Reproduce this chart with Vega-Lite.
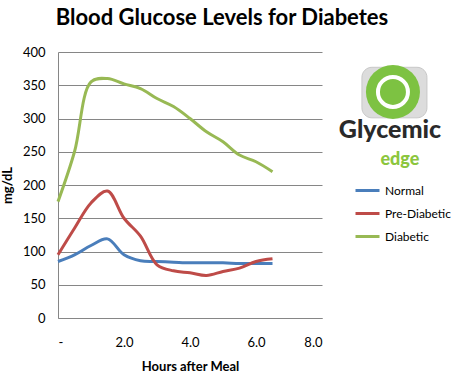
{
  "$schema": "https://vega.github.io/schema/vega-lite/v6.json",
  "width": 264,
  "height": 266,
  "autosize": {"type": "none"},
  "padding": {"left": 58, "top": 52, "right": 134, "bottom": 56},
  "background": "white",
  "title": {
    "text": "Blood Glucose Levels for Diabetes",
    "font": "Lato",
    "fontSize": 22,
    "fontWeight": "bold",
    "color": "#000000",
    "anchor": "middle",
    "frame": "group",
    "dx": 32,
    "baseline": "alphabetic",
    "offset": -1
  },
  "layer": [
    {
      "data": {
        "values": [
          {"hours": 0, "series": "Normal", "glucose": 85},
          {"hours": 0.5, "series": "Normal", "glucose": 95},
          {"hours": 1.0, "series": "Normal", "glucose": 109},
          {"hours": 1.5, "series": "Normal", "glucose": 119},
          {"hours": 2.0, "series": "Normal", "glucose": 95},
          {"hours": 2.5, "series": "Normal", "glucose": 86},
          {"hours": 3.0, "series": "Normal", "glucose": 85},
          {"hours": 3.5, "series": "Normal", "glucose": 84},
          {"hours": 4.0, "series": "Normal", "glucose": 83},
          {"hours": 4.5, "series": "Normal", "glucose": 83},
          {"hours": 5.0, "series": "Normal", "glucose": 83},
          {"hours": 5.5, "series": "Normal", "glucose": 82},
          {"hours": 6.0, "series": "Normal", "glucose": 82},
          {"hours": 6.5, "series": "Normal", "glucose": 82},
          {"hours": 0, "series": "Pre-Diabetic", "glucose": 95},
          {"hours": 0.5, "series": "Pre-Diabetic", "glucose": 135},
          {"hours": 1.0, "series": "Pre-Diabetic", "glucose": 173},
          {"hours": 1.5, "series": "Pre-Diabetic", "glucose": 191},
          {"hours": 2.0, "series": "Pre-Diabetic", "glucose": 150},
          {"hours": 2.5, "series": "Pre-Diabetic", "glucose": 123},
          {"hours": 3.0, "series": "Pre-Diabetic", "glucose": 80},
          {"hours": 3.5, "series": "Pre-Diabetic", "glucose": 71},
          {"hours": 4.0, "series": "Pre-Diabetic", "glucose": 68},
          {"hours": 4.5, "series": "Pre-Diabetic", "glucose": 64},
          {"hours": 5.0, "series": "Pre-Diabetic", "glucose": 70},
          {"hours": 5.5, "series": "Pre-Diabetic", "glucose": 75},
          {"hours": 6.0, "series": "Pre-Diabetic", "glucose": 85},
          {"hours": 6.5, "series": "Pre-Diabetic", "glucose": 89},
          {"hours": 0, "series": "Diabetic", "glucose": 175},
          {"hours": 0.5, "series": "Diabetic", "glucose": 250},
          {"hours": 1.0, "series": "Diabetic", "glucose": 355},
          {"hours": 1.5, "series": "Diabetic", "glucose": 360},
          {"hours": 2.0, "series": "Diabetic", "glucose": 352},
          {"hours": 2.5, "series": "Diabetic", "glucose": 345},
          {"hours": 3.0, "series": "Diabetic", "glucose": 330},
          {"hours": 3.5, "series": "Diabetic", "glucose": 318},
          {"hours": 4.0, "series": "Diabetic", "glucose": 300},
          {"hours": 4.5, "series": "Diabetic", "glucose": 280},
          {"hours": 5.0, "series": "Diabetic", "glucose": 265},
          {"hours": 5.5, "series": "Diabetic", "glucose": 245},
          {"hours": 6.0, "series": "Diabetic", "glucose": 235},
          {"hours": 6.5, "series": "Diabetic", "glucose": 220}
        ]
      },
      "mark": {"type": "line", "interpolate": "catmull-rom", "strokeWidth": 3},
      "encoding": {
        "x": {
          "field": "hours",
          "type": "quantitative",
          "scale": {"domain": [0, 8], "nice": false},
          "axis": {"values": [0, 2, 4, 6, 8], "title": "Hours after Meal"}
        },
        "y": {
          "field": "glucose",
          "type": "quantitative",
          "scale": {"domain": [0, 400], "nice": false},
          "axis": {"values": [0, 50, 100, 150, 200, 250, 300, 350, 400], "title": "mg/dL"}
        },
        "color": {
          "field": "series",
          "type": "nominal",
          "sort": ["Normal", "Pre-Diabetic", "Diabetic"],
          "scale": {
            "domain": ["Normal", "Pre-Diabetic", "Diabetic"],
            "range": ["#4a7ebb", "#be4b48", "#98b954"]
          },
          "legend": {
            "title": null,
            "orient": "none",
            "legendX": 296,
            "legendY": 125,
            "symbolType": "stroke",
            "symbolSize": 576,
            "symbolStrokeWidth": 3,
            "rowPadding": 3,
            "labelFont": "Lato",
            "labelFontSize": 12,
            "labelColor": "#000000",
            "labelOffset": 4
          }
        }
      }
    },
    {
      "data": {"values": [{"logo": "Glycemic edge"}]},
      "mark": {"type": "rect", "cornerRadius": 10, "fill": "#dcdcdc", "stroke": "#c8c8c8", "strokeWidth": 1},
      "encoding": {
        "x": {"datum": 9.21, "type": "quantitative", "axis": {"values": [0, 2, 4, 6, 8], "title": "Hours after Meal"}},
        "x2": {"datum": 11.18},
        "y": {"datum": 377, "type": "quantitative", "axis": {"values": [0, 50, 100, 150, 200, 250, 300, 350, 400], "title": "mg/dL"}},
        "y2": {"datum": 301}
      }
    },
    {
      "data": {"values": [{"logo": "Glycemic edge"}]},
      "mark": {"type": "point", "shape": "circle", "filled": true, "size": 2916, "color": "#7dc242", "opacity": 1},
      "encoding": {
        "x": {"datum": 10.15, "type": "quantitative", "axis": {"values": [0, 2, 4, 6, 8], "title": "Hours after Meal"}},
        "y": {"datum": 340, "type": "quantitative", "axis": {"values": [0, 50, 100, 150, 200, 250, 300, 350, 400], "title": "mg/dL"}}
      }
    },
    {
      "data": {"values": [{"logo": "Glycemic edge"}]},
      "mark": {"type": "point", "shape": "circle", "filled": false, "size": 900, "stroke": "#ffffff", "strokeWidth": 4, "opacity": 1},
      "encoding": {
        "x": {"datum": 10.15, "type": "quantitative", "axis": {"values": [0, 2, 4, 6, 8], "title": "Hours after Meal"}},
        "y": {"datum": 340, "type": "quantitative", "axis": {"values": [0, 50, 100, 150, 200, 250, 300, 350, 400], "title": "mg/dL"}}
      }
    },
    {
      "data": {"values": [{"word": "Glycemic"}]},
      "mark": {"type": "text", "font": "Lato", "fontSize": 25, "fontWeight": 900, "color": "#2a2a2a", "align": "center", "baseline": "alphabetic"},
      "encoding": {
        "x": {"datum": 10.06, "type": "quantitative", "axis": {"values": [0, 2, 4, 6, 8], "title": "Hours after Meal"}},
        "y": {"datum": 270, "type": "quantitative", "axis": {"values": [0, 50, 100, 150, 200, 250, 300, 350, 400], "title": "mg/dL"}},
        "text": {"field": "word"}
      }
    },
    {
      "data": {"values": [{"word": "edge"}]},
      "mark": {"type": "text", "font": "Lato", "fontSize": 18, "fontWeight": 900, "color": "#8cc63e", "align": "center", "baseline": "alphabetic"},
      "encoding": {
        "x": {"datum": 10.36, "type": "quantitative", "axis": {"values": [0, 2, 4, 6, 8], "title": "Hours after Meal"}},
        "y": {"datum": 230, "type": "quantitative", "axis": {"values": [0, 50, 100, 150, 200, 250, 300, 350, 400], "title": "mg/dL"}},
        "text": {"field": "word"}
      }
    }
  ],
  "config": {
    "view": {"stroke": null},
    "axisX": {
      "labelExpr": "datum.value == 0 ? '-' : format(datum.value, '.1f')",
      "grid": false,
      "ticks": false,
      "domainColor": "#868686",
      "labelFont": "Lato",
      "labelFontSize": 13,
      "labelColor": "#000000",
      "labelPadding": 18,
      "titleFont": "Lato",
      "titleFontSize": 13,
      "titleFontWeight": "bold",
      "titleColor": "#000000",
      "titlePadding": 11
    },
    "axisY": {
      "grid": true,
      "gridColor": "#868686",
      "ticks": false,
      "domainColor": "#868686",
      "labelFont": "Lato",
      "labelFontSize": 13,
      "labelColor": "#000000",
      "labelPadding": 13,
      "labelOverlap": false,
      "titleFont": "Lato",
      "titleFontSize": 13,
      "titleFontWeight": "bold",
      "titleColor": "#000000",
      "titlePadding": 8
    }
  }
}
